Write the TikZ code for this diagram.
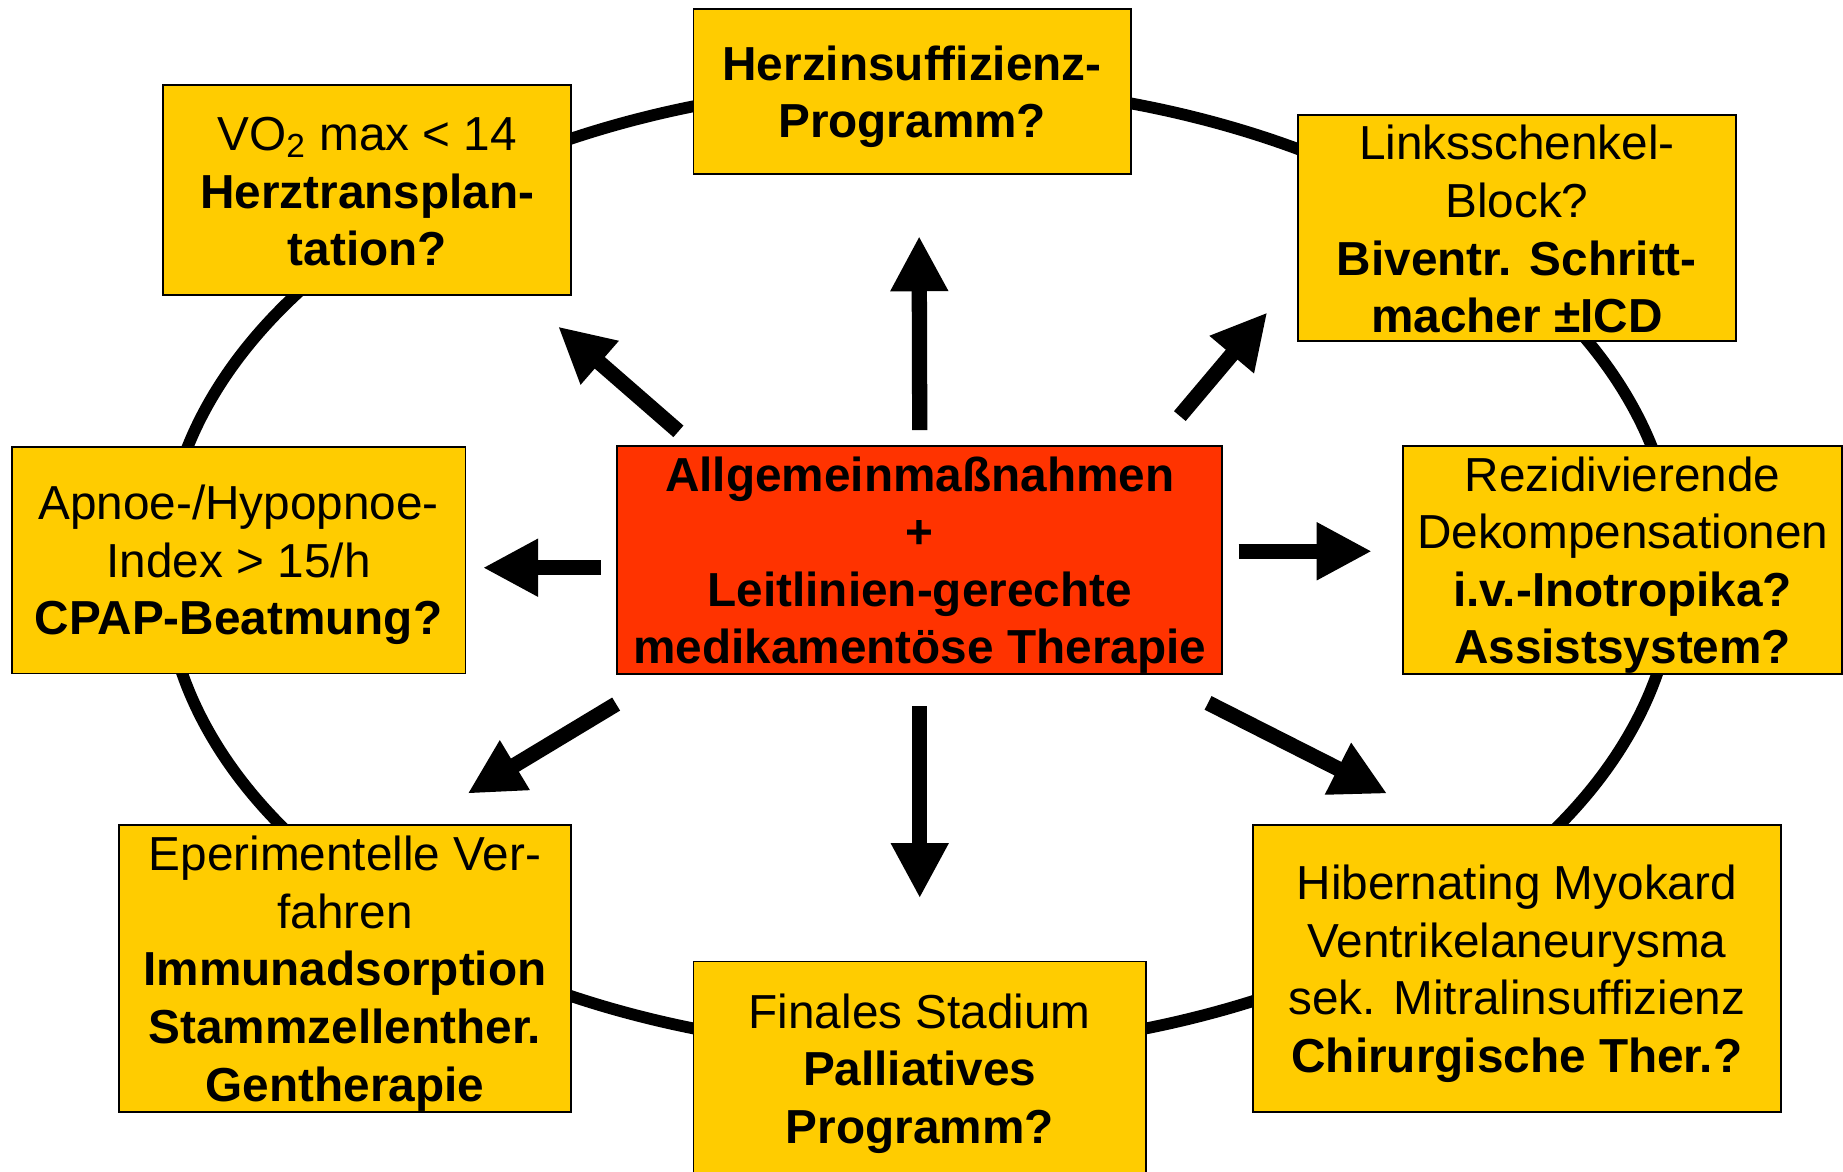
\documentclass[tikz,border=0pt]{standalone}
\usepackage{fontspec}
\setmainfont{Liberation Sans}
\usepackage{tikz}
\usetikzlibrary{arrows.meta, positioning, calc}
\definecolor{gelb}{HTML}{FFCC00}
\definecolor{rot}{HTML}{FF3300}
\newcommand\oben{\rule{0pt}{19pt}}
\tikzset{
    panel/.style={draw=black, line width=0.8pt, fill=gelb, align=center, inner sep=0pt,
        font=\fontsize{20.3}{24.5}\selectfont,
        execute at end node=\rule[-3.5pt]{0pt}{3.5pt}},
    core/.style={panel, fill=rot, font=\fontsize{20.3}{24.5}\selectfont\bfseries},
    fat/.style={line width=6.5pt, -{Triangle[length=23.5pt, width=23pt]}},
}
\begin{document}
\begin{tikzpicture}[x=0.5pt, y=0.5pt]
    \useasboundingbox (0, 0) rectangle (1568, -997);
    \draw[line width=5pt] (782.5, -482.7) ellipse [x radius=321.5pt, y radius=205.5pt];

    \node[core, minimum width=257.5pt, minimum height=96.5pt] (centre) at (782.5, -476.5)
        {\oben Allgemeinmaßnahmen\\+\\Leitlinien-gerechte\\medikamentöse Therapie};

    \node[panel, minimum width=186pt, minimum height=70pt] (prog) at (776, -78)
        {\oben\textbf{Herzinsuffizienz-}\\\textbf{Programm?}};
    \node[panel, minimum width=173.5pt, minimum height=89.5pt] (vo2) at (312.5, -161.5)
        {\oben VO\textsubscript{2} max < 14\\\textbf{Herztransplan-}\\\textbf{tation?}};
    \node[panel, minimum width=186.5pt, minimum height=96pt] (lsb) at (1290.5, -194)
        {\oben Linksschenkel-\\Block?\\\textbf{Biventr. Schritt-}\\\textbf{macher ±ICD}};
    \node[panel, minimum width=193pt, minimum height=96.5pt] (apnoe) at (203, -476.5)
        {\oben Apnoe-/Hypopnoe-\\Index > 15/h\\\textbf{CPAP-Beatmung?}};
    \node[panel, minimum width=186.5pt, minimum height=96.5pt] (rezid) at (1380.5, -476.5)
        {\oben Rezidivierende\\Dekompensationen\\\textbf{i.v.-Inotropika?}\\\textbf{Assistsystem?}};
    \node[panel, minimum width=192.5pt, minimum height=122pt] (exper) at (293.5, -824)
        {\oben Eperimentelle Ver-\\fahren\\\textbf{Immunadsorption}\\\textbf{Stammzellenther.}\\\textbf{Gentherapie}};
    \node[panel, minimum width=192.5pt, minimum height=91pt] (final) at (782.5, -909)
        {\oben Finales Stadium\\\textbf{Palliatives}\\\textbf{Programm?}};
    \node[panel, minimum width=224.5pt, minimum height=122pt] (hib) at (1290.5, -824)
        {\oben Hibernating Myokard\\Ventrikelaneurysma\\sek. Mitralinsuffizienz\\\textbf{Chirurgische Ther.?}};

    \draw[fat] ([yshift=6.5pt]centre.north) -- ([xshift=3pt, yshift=-26pt]prog.south);
    \draw[fat] ([xshift=26.5pt, yshift=6pt]centre.north west) -- ([xshift=-6pt, yshift=-13pt]vo2.south east);
    \draw[fat] ([xshift=-18.5pt, yshift=12.5pt]centre.north east) -- ([xshift=-12.5pt, yshift=12.5pt]lsb.south west);
    \draw[fat] ([xshift=-6.5pt, yshift=-3.25pt]centre.west) -- ([xshift=7pt, yshift=-3.25pt]apnoe.east);
    \draw[fat] ([xshift=6.5pt, yshift=3.75pt]centre.east) -- ([xshift=-13pt, yshift=3.75pt]rezid.west);
    \draw[fat] ([yshift=-12.5pt]centre.south west) -- ([xshift=-44.5pt, yshift=13pt]exper.north east);
    \draw[fat] ([yshift=-13.5pt]centre.south) -- ([yshift=26.5pt]final.north);
    \draw[fat] ([xshift=-6.5pt, yshift=-12pt]centre.south east) -- ([xshift=57.5pt, yshift=13pt]hib.north west);
\end{tikzpicture}
\end{document}
